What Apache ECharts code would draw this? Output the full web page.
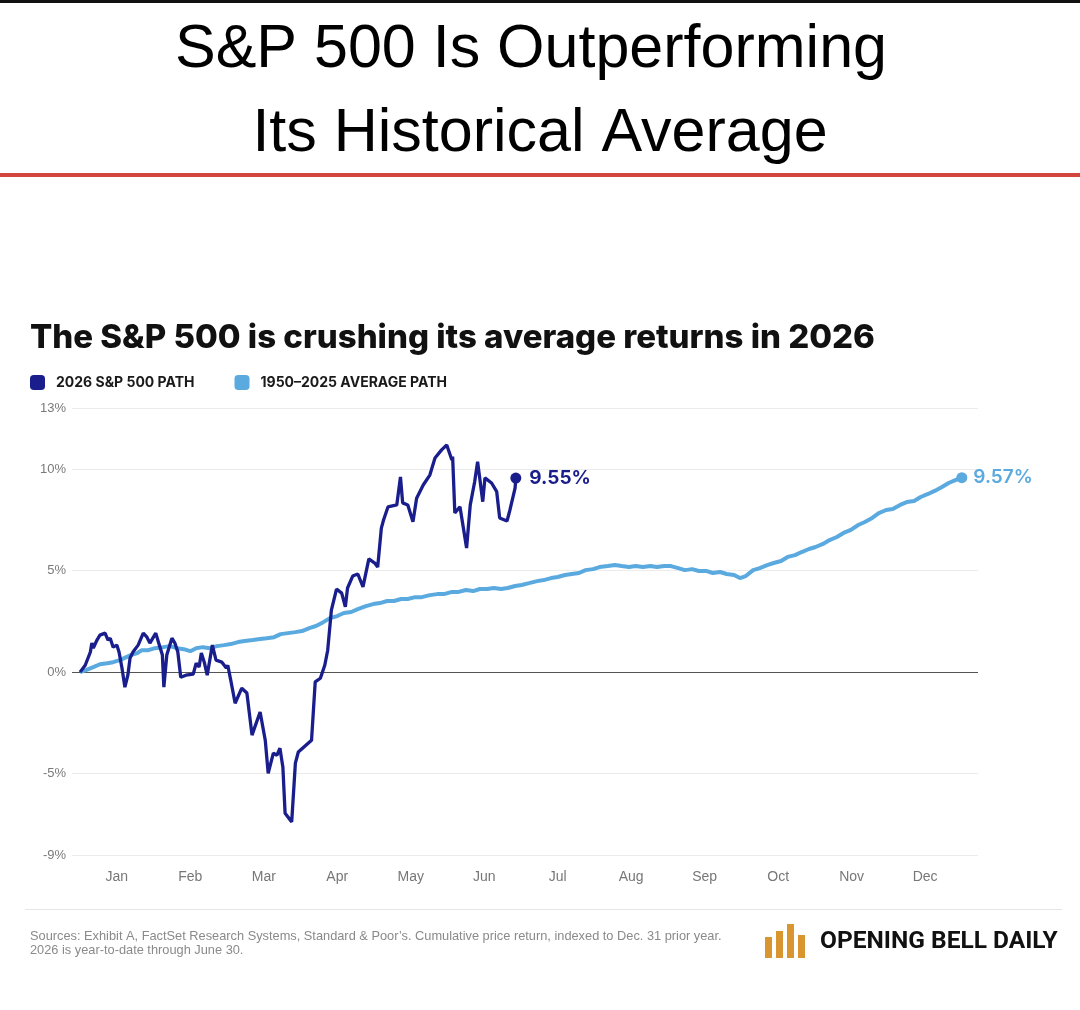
<!DOCTYPE html>
<html>
<head>
<meta charset="utf-8">
<title>S&P 500 vs historical average</title>
<script src="https://cdn.jsdelivr.net/npm/echarts@6/dist/echarts.min.js"></script>
<style>
  html, body { margin: 0; padding: 0; background: #fff; }
  #chart { width: 1080px; height: 1010px; }
</style>
</head>
<body>
<div id="chart"></div>
<script>
// x values are months elapsed since Dec 31 (0 = start of Jan, 12 = end of Dec)
var pathX2026 = [0, 0.07, 0.14, 0.16, 0.18, 0.23, 0.27, 0.34, 0.38, 0.41, 0.45, 0.50, 0.53, 0.57, 0.61, 0.65, 0.68, 0.72, 0.79, 0.86,
  0.91, 0.95, 1.03, 1.07, 1.12, 1.14, 1.18, 1.25, 1.29, 1.33, 1.37, 1.44, 1.54, 1.58, 1.62, 1.65, 1.69, 1.73, 1.80, 1.85,
  1.93, 1.99, 2.01, 2.05, 2.11, 2.20, 2.27, 2.34, 2.45, 2.52, 2.56, 2.63, 2.68, 2.72, 2.76, 2.79, 2.88, 2.93, 2.97, 3.15,
  3.20, 3.27, 3.33, 3.37, 3.42, 3.49, 3.56, 3.61, 3.64, 3.71, 3.78, 3.85, 3.93, 4.01, 4.05, 4.10, 4.13, 4.19, 4.31, 4.36,
  4.39, 4.46, 4.53, 4.58, 4.67, 4.76, 4.83, 4.92, 4.99, 5.06, 5.07, 5.10, 5.17, 5.26, 5.31, 5.37, 5.41, 5.48, 5.51, 5.60,
  5.67, 5.71, 5.81, 5.85, 5.92, 5.93];
var pathY2026 = [0, 0.34, 0.99, 1.43, 1.18, 1.58, 1.82, 1.92, 1.58, 1.67, 1.23, 1.33, 0.99, 0.20, -0.74, -0.15, 0.69, 0.99, 1.33, 1.92,
  1.72, 1.43, 1.92, 1.43, 0.84, -0.74, 0.84, 1.67, 1.43, 0.99, -0.25, -0.15, -0.10, 0.44, 0.25, 0.94, 0.49, -0.15, 1.33, 0.59,
  0.49, 0.20, 0.34, -0.39, -1.53, -0.79, -1.03, -3.10, -1.96, -3.35, -4.98, -3.99, -4.09, -3.74, -4.68, -6.95, -7.37, -4.48, -3.93, -3.35,
  -0.48, -0.30, 0.34, 1.08, 3.05, 4.09, 3.89, 3.22, 4.14, 4.73, 4.83, 4.20, 5.57, 5.37, 5.17, 7.09, 7.49, 8.13, 8.23, 9.61,
  8.33, 8.23, 7.40, 8.56, 9.21, 9.70, 10.54, 10.94, 11.18, 10.44, 10.61, 7.83, 8.14, 6.11, 8.23, 9.37, 10.36, 8.39, 9.56, 9.31,
  8.88, 7.59, 7.44, 7.98, 9.06, 9.55];

var avgX = [0, 0.08, 0.18, 0.27, 0.37, 0.45, 0.54, 0.63, 0.69, 0.78, 0.84, 0.93, 1.02, 1.13, 1.22, 1.32, 1.41, 1.50, 1.58, 1.67,
  1.77, 1.86, 1.96, 2.05, 2.15, 2.24, 2.35, 2.45, 2.54, 2.64, 2.73, 2.83, 2.93, 3.02, 3.12, 3.21, 3.31, 3.40, 3.50, 3.59,
  3.69, 3.78, 3.89, 3.99, 4.08, 4.18, 4.27, 4.37, 4.46, 4.56, 4.65, 4.76, 4.86, 4.95, 5.05, 5.14, 5.25, 5.35, 5.44, 5.54,
  5.63, 5.73, 5.82, 5.92, 6.01, 6.11, 6.22, 6.31, 6.41, 6.50, 6.60, 6.69, 6.79, 6.88, 6.98, 7.07, 7.18, 7.28, 7.37, 7.47,
  7.56, 7.66, 7.76, 7.85, 7.95, 8.04, 8.14, 8.23, 8.33, 8.42, 8.52, 8.61, 8.71, 8.80, 8.90, 8.98, 9.06, 9.16, 9.25, 9.35,
  9.44, 9.54, 9.63, 9.73, 9.82, 9.92, 10.01, 10.11, 10.20, 10.30, 10.39, 10.49, 10.59, 10.68, 10.78, 10.87, 10.97, 11.06, 11.16, 11.25,
  11.35, 11.44, 11.54, 11.63, 11.73, 11.82, 11.92, 12.0];
var avgY = [0, 0.10, 0.25, 0.39, 0.44, 0.49, 0.59, 0.74, 0.84, 0.94, 1.08, 1.08, 1.18, 1.23, 1.28, 1.18, 1.13, 1.03, 1.18, 1.23,
  1.18, 1.28, 1.33, 1.38, 1.48, 1.53, 1.58, 1.63, 1.67, 1.72, 1.87, 1.92, 1.97, 2.02, 2.17, 2.27, 2.46, 2.66, 2.76, 2.91,
  2.96, 3.10, 3.25, 3.35, 3.40, 3.50, 3.50, 3.60, 3.60, 3.69, 3.69, 3.79, 3.84, 3.84, 3.94, 3.94, 4.04, 3.99, 4.09, 4.09,
  4.14, 4.09, 4.14, 4.24, 4.29, 4.38, 4.48, 4.53, 4.63, 4.68, 4.78, 4.83, 4.88, 5.02, 5.07, 5.17, 5.22, 5.27, 5.22, 5.17,
  5.22, 5.17, 5.22, 5.17, 5.22, 5.22, 5.12, 5.02, 5.07, 4.98, 4.98, 4.88, 4.93, 4.83, 4.78, 4.63, 4.73, 5.02, 5.12, 5.27,
  5.37, 5.47, 5.67, 5.76, 5.91, 6.06, 6.16, 6.31, 6.50, 6.65, 6.85, 7.00, 7.24, 7.39, 7.59, 7.83, 7.98, 8.03, 8.23, 8.37,
  8.42, 8.62, 8.77, 8.92, 9.11, 9.31, 9.46, 9.57];

var monthLabels = ['Jan', 'Feb', 'Mar', 'Apr', 'May', 'Jun', 'Jul', 'Aug', 'Sep', 'Oct', 'Nov', 'Dec'];
var monthLabelPos = [0.5, 1.5, 2.5, 3.5, 4.5, 5.5, 6.5, 7.5, 8.5, 9.5, 10.5, 11.5];
var yTicks = [13, 10, 5, 0, -5, -9];

var DARK = '#1a1e8c';
var LIGHT = '#5aa9df';

function zip(xs, ys) {
  var out = [];
  for (var i = 0; i < xs.length; i++) out.push([xs[i], ys[i]]);
  return out;
}
var data2026 = zip(pathX2026, pathY2026);
var dataAvg = zip(avgX, avgY);
var last2026 = data2026[data2026.length - 1];
var lastAvg = dataAvg[dataAvg.length - 1];

var chart = echarts.init(document.getElementById('chart'));

chart.setOption({
  animation: false,
  backgroundColor: '#fff',
  textStyle: { fontFamily: 'Liberation Sans, Arial, sans-serif' },
  grid: { left: 72, right: 102, top: 408, bottom: 155 },
  legend: {
    left: 30,
    top: 375,
    padding: 0,
    icon: 'roundRect',
    itemWidth: 15,
    itemHeight: 15,
    itemGap: 40,
    data: ['2026 S&P 500 PATH', '1950–2025 AVERAGE PATH'],
    textStyle: { fontFamily: 'Inter', fontWeight: 700, fontSize: 14, color: '#1a1a1a', padding: [0, 0, 0, 6] }
  },
  xAxis: {
    type: 'value',
    min: -0.11,
    max: 12.22,
    axisLine: { show: false },
    axisTick: { show: false },
    splitLine: { show: false },
    axisLabel: {
      customValues: monthLabelPos,
      formatter: function (v) { return monthLabels[Math.floor(v)]; },
      color: '#777',
      fontSize: 14,
      margin: 15
    }
  },
  yAxis: {
    type: 'value',
    min: -9,
    max: 13,
    axisLine: { show: false },
    axisTick: { show: false },
    splitLine: { show: false },
    axisLabel: {
      customValues: yTicks,
      formatter: function (v) { return v + '%'; },
      color: '#7a7a7a',
      fontSize: 13,
      margin: 6
    }
  },
  series: [
    {
      name: 'gridlines',
      type: 'line',
      data: [],
      z: 1,
      silent: true,
      markLine: {
        z: 1,
        silent: true,
        symbol: 'none',
        label: { show: false },
        data: yTicks.map(function (v) {
          return {
            yAxis: v,
            lineStyle: v === 0 ? { color: '#555', width: 1, type: 'solid' } : { color: '#ececec', width: 1, type: 'solid' }
          };
        })
      }
    },
    {
      name: '1950–2025 AVERAGE PATH',
      type: 'line',
      data: dataAvg,
      showSymbol: false,
      z: 3,
      itemStyle: { color: LIGHT },
      lineStyle: { color: LIGHT, width: 4 }
    },
    {
      name: '2026 S&P 500 PATH',
      type: 'line',
      data: data2026,
      showSymbol: false,
      z: 4,
      itemStyle: { color: DARK },
      lineStyle: { color: DARK, width: 3.3 }
    },
    {
      name: 'end-avg',
      type: 'scatter',
      z: 5,
      symbolSize: 11,
      itemStyle: { color: LIGHT, opacity: 1 },
      data: [lastAvg],
      label: {
        show: true,
        position: 'right',
        distance: 6,
        formatter: function (p) { return p.value[1].toFixed(2) + '%'; },
        color: LIGHT,
        fontFamily: 'Inter',
        fontWeight: 600,
        fontSize: 19
      }
    },
    {
      name: 'end-2026',
      type: 'scatter',
      z: 5,
      symbolSize: 11,
      itemStyle: { color: DARK, opacity: 1 },
      data: [last2026],
      label: {
        show: true,
        position: 'right',
        distance: 8,
        formatter: function (p) { return p.value[1].toFixed(2) + '%'; },
        color: DARK,
        fontFamily: 'Inter',
        fontWeight: 700,
        fontSize: 19
      }
    }
  ],
  graphic: [
    { type: 'rect', shape: { x: 0, y: 0, width: 1080, height: 3 }, style: { fill: '#111' } },
    { type: 'rect', shape: { x: 0, y: 173, width: 1080, height: 4 }, style: { fill: '#d2463c' } },
    {
      type: 'text',
      style: { x: 531, y: 50, text: 'S&P 500 Is Outperforming', font: '61px "Liberation Sans", Arial, sans-serif', fill: '#000', textAlign: 'center', textVerticalAlign: 'middle' }
    },
    {
      type: 'text',
      style: { x: 540, y: 134, text: 'Its Historical Average', font: '61px "Liberation Sans", Arial, sans-serif', fill: '#000', textAlign: 'center', textVerticalAlign: 'middle' }
    },
    {
      type: 'text',
      style: { x: 30, y: 338, text: 'The S&P 500 is crushing its average returns in 2026', font: '800 33px Inter, sans-serif', fill: '#111', textAlign: 'left', textVerticalAlign: 'middle' }
    },
    { type: 'rect', shape: { x: 25, y: 909, width: 1037, height: 1 }, style: { fill: '#e6e6e6' } },
    {
      type: 'text',
      style: { x: 30, y: 936, text: 'Sources: Exhibit A, FactSet Research Systems, Standard & Poor’s. Cumulative price return, indexed to Dec. 31 prior year.', font: '12.8px "Liberation Sans", Arial, sans-serif', fill: '#8a8a8a', textAlign: 'left', textVerticalAlign: 'middle' }
    },
    {
      type: 'text',
      style: { x: 30, y: 950, text: '2026 is year-to-date through June 30.', font: '12.8px "Liberation Sans", Arial, sans-serif', fill: '#8a8a8a', textAlign: 'left', textVerticalAlign: 'middle' }
    },
    { type: 'rect', shape: { x: 765, y: 937, width: 7, height: 21 }, style: { fill: '#d9952f' } },
    { type: 'rect', shape: { x: 776, y: 931, width: 7, height: 27 }, style: { fill: '#d9952f' } },
    { type: 'rect', shape: { x: 787, y: 924, width: 7, height: 34 }, style: { fill: '#d9952f' } },
    { type: 'rect', shape: { x: 798, y: 935, width: 7, height: 23 }, style: { fill: '#d9952f' } },
    {
      type: 'text',
      style: { x: 820, y: 942, text: 'OPENING BELL DAILY', font: 'bold 24.5px Roboto, sans-serif', fill: '#111', textAlign: 'left', textVerticalAlign: 'middle' }
    }
  ]
});
</script>
</body>
</html>
